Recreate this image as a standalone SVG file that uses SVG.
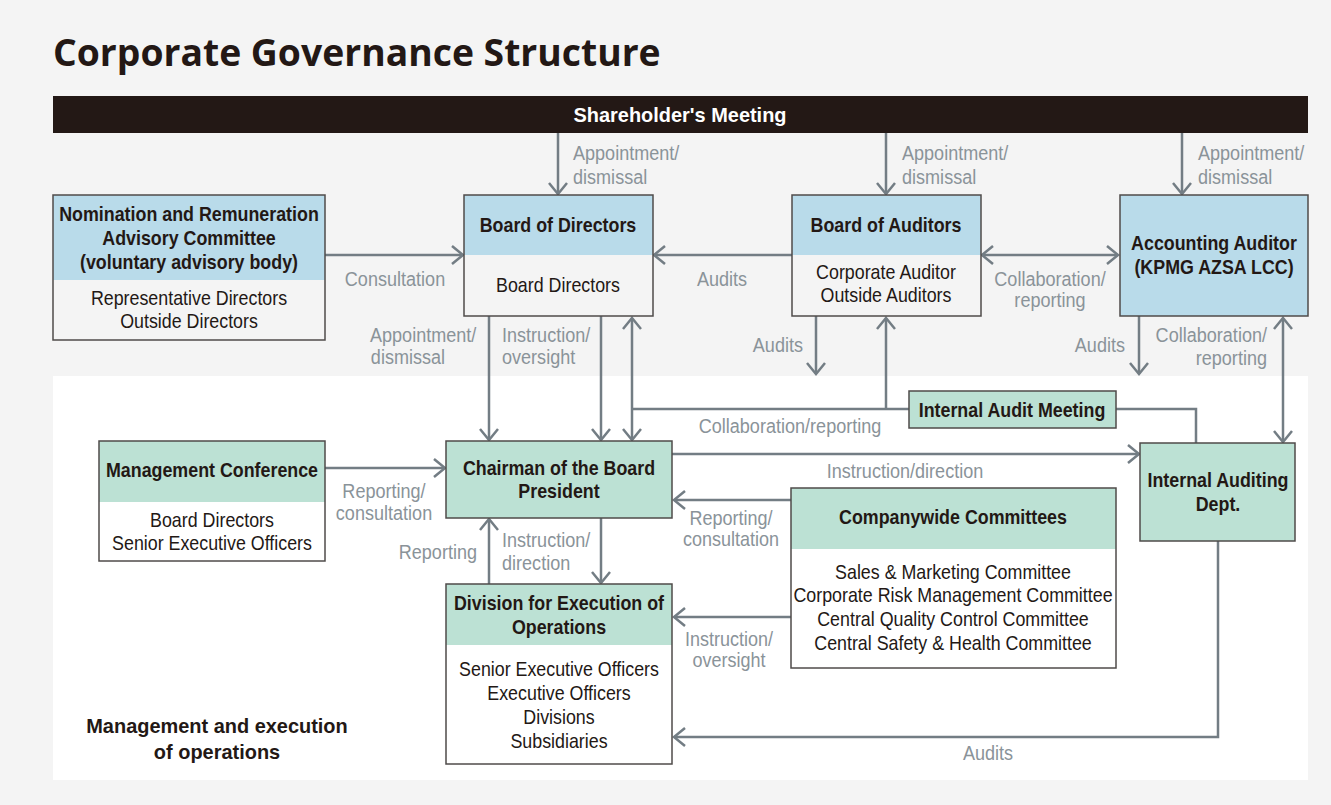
<svg xmlns="http://www.w3.org/2000/svg" width="1331" height="805" viewBox="0 0 1331 805">
  <style>
    text { font-family: "Liberation Sans", Arial, sans-serif; }
    .title { font-family: "Open Sans", "Noto Sans", sans-serif; font-weight: 700; font-size: 37.3px; fill: #231815; }
    .t { font-size: 21px; fill: #231815; text-anchor: middle; }
    .tb { font-size: 21px; fill: #231815; text-anchor: middle; font-weight: 700; }
    .lbl { font-size: 21px; fill: #8a9399; }
    .lbs { font-size: 20px; fill: #8a9399; }
    .mid { text-anchor: middle; }
    .end { text-anchor: end; }
    .box { stroke: #4f4b4a; stroke-width: 1.5; fill: none; }
    .blue { fill: #b9dbea; }
    .mint { fill: #bce1d4; }
    .pale { fill: #f4f4f4; }
    .white { fill: #ffffff; }
    .ln { stroke: #737d84; stroke-width: 2.5; fill: none; }
    .a1 { marker-end: url(#arr); }
    .a2 { marker-start: url(#arr); marker-end: url(#arr); }
  </style>
  <defs>
    <marker id="arr" markerUnits="userSpaceOnUse" markerWidth="24" markerHeight="24" viewBox="-14 -12 16 24" refX="0" refY="0" orient="auto-start-reverse">
      <path d="M-11,-9 L0,0 L-11,9" fill="none" stroke="#737d84" stroke-width="2.5"/>
    </marker>
  </defs>

  <!-- page backgrounds -->
  <rect x="0" y="0" width="1331" height="805" fill="#f4f4f4"/>
  <rect x="53" y="376" width="1255" height="404" fill="#ffffff"/>

  <text class="title" x="53" y="66">Corporate Governance Structure</text>

  <!-- shareholders bar -->
  <g id="shareholders">
    <rect x="53" y="96" width="1255" height="37" fill="#231815"/>
    <g transform="translate(680 0) scale(0.95 1)">
      <text x="0" y="122" font-size="21" fill="#ffffff" text-anchor="middle" font-weight="700">Shareholder's Meeting</text>
    </g>
  </g>

  <!-- connectors -->
  <g id="connectors">
    <path class="ln a1" d="M558,133 V194"/>
    <path class="ln a1" d="M886,133 V194"/>
    <path class="ln a1" d="M1182,133 V194"/>
    <path class="ln a1" d="M325,255 H463"/>
    <path class="ln a1" d="M792,255 H654"/>
    <path class="ln a2" d="M982,255 H1118"/>
    <path class="ln a1" d="M816,316 V374"/>
    <path class="ln a1" d="M1139,316 V374"/>
    <path class="ln a2" d="M1283,318 V442"/>
    <path class="ln a1" d="M489,316 V440"/>
    <path class="ln a1" d="M601,316 V440"/>
    <path class="ln a2" d="M632,318 V440"/>
    <path class="ln" d="M632,409 H909"/>
    <path class="ln a1" d="M886,409 V318"/>
    <path class="ln" d="M1116,409 H1196 V443"/>
    <path class="ln a1" d="M672,454 H1139"/>
    <path class="ln a1" d="M325,468 H445"/>
    <path class="ln a1" d="M791,500 H674"/>
    <path class="ln a1" d="M791,617 H674"/>
    <path class="ln a1" d="M489,584 V519"/>
    <path class="ln a1" d="M601,518 V583"/>
    <path class="ln a1" d="M1218,541 V737 H674"/>
  </g>

  <!-- connector labels (condensed horizontally around their anchor) -->
  <g id="labels">
    <g transform="translate(573 0) scale(0.86 1)">
      <text class="lbl" x="0" y="160">Appointment/</text>
      <text class="lbl" x="0" y="184">dismissal</text>
    </g>
    <g transform="translate(902 0) scale(0.86 1)">
      <text class="lbl" x="0" y="160">Appointment/</text>
      <text class="lbl" x="0" y="184">dismissal</text>
    </g>
    <g transform="translate(1198 0) scale(0.86 1)">
      <text class="lbl" x="0" y="160">Appointment/</text>
      <text class="lbl" x="0" y="184">dismissal</text>
    </g>
    <g transform="translate(395 0) scale(0.86 1)">
      <text class="lbl mid" x="0" y="286">Consultation</text>
    </g>
    <g transform="translate(722 0) scale(0.86 1)">
      <text class="lbl mid" x="0" y="286">Audits</text>
    </g>
    <g transform="translate(1050 0) scale(0.86 1)">
      <text class="lbl mid" x="0" y="286">Collaboration/</text>
      <text class="lbl mid" x="0" y="307">reporting</text>
    </g>
    <g transform="translate(803 0) scale(0.86 1)">
      <text class="lbl end" x="0" y="352">Audits</text>
    </g>
    <g transform="translate(1125 0) scale(0.86 1)">
      <text class="lbl end" x="0" y="352">Audits</text>
    </g>
    <g transform="translate(1267 0) scale(0.86 1)">
      <text class="lbl end" x="0" y="342">Collaboration/</text>
      <text class="lbl end" x="0" y="365">reporting</text>
    </g>
    <g transform="translate(370 0) scale(0.86 1)">
      <text class="lbl" x="0" y="342">Appointment/</text>
      <text class="lbl" x="1" y="364">dismissal</text>
    </g>
    <g transform="translate(502 0) scale(0.86 1)">
      <text class="lbl" x="0" y="342">Instruction/</text>
      <text class="lbl" x="0" y="364">oversight</text>
    </g>
    <g transform="translate(790 0) scale(0.86 1)">
      <text class="lbl mid" x="0" y="433">Collaboration/reporting</text>
    </g>
    <g transform="translate(905 0) scale(0.86 1)">
      <text class="lbl mid" x="0" y="478">Instruction/direction</text>
    </g>
    <g transform="translate(384 0) scale(0.86 1)">
      <text class="lbl mid" x="0" y="498">Reporting/</text>
      <text class="lbl mid" x="0" y="520">consultation</text>
    </g>
    <g transform="translate(477 0) scale(0.86 1)">
      <text class="lbl end" x="0" y="559">Reporting</text>
    </g>
    <g transform="translate(502 0) scale(0.86 1)">
      <text class="lbl" x="0" y="547">Instruction/</text>
      <text class="lbl" x="0" y="570">direction</text>
    </g>
    <g transform="translate(731 0) scale(0.9 1)">
      <text class="lbs mid" x="0" y="525">Reporting/</text>
      <text class="lbs mid" x="0" y="546">consultation</text>
    </g>
    <g transform="translate(729 0) scale(0.9 1)">
      <text class="lbs mid" x="0" y="646">Instruction/</text>
      <text class="lbs mid" x="0" y="667">oversight</text>
    </g>
    <g transform="translate(988 0) scale(0.86 1)">
      <text class="lbl mid" x="0" y="760">Audits</text>
    </g>
  </g>

  <!-- nodes -->
  <g id="nomination">
    <rect class="pale" x="53" y="195" width="272" height="145"/>
    <rect class="blue" x="53" y="195" width="272" height="85"/>
    <rect class="box" x="53" y="195" width="272" height="145"/>
    <g transform="translate(189 0) scale(0.85 1)">
      <text class="tb" x="0" y="221">Nomination and Remuneration</text>
      <text class="tb" x="0" y="245">Advisory Committee</text>
      <text class="tb" x="0" y="269">(voluntary advisory body)</text>
      <text class="t" x="0" y="305">Representative Directors</text>
      <text class="t" x="0" y="328">Outside Directors</text>
    </g>
  </g>

  <g id="board-of-directors">
    <rect class="pale" x="464" y="195" width="189" height="121"/>
    <rect class="blue" x="464" y="195" width="189" height="60"/>
    <rect class="box" x="464" y="195" width="189" height="121"/>
    <g transform="translate(558 0) scale(0.85 1)">
      <text class="tb" x="0" y="232">Board of Directors</text>
      <text class="t" x="0" y="292">Board Directors</text>
    </g>
  </g>

  <g id="board-of-auditors">
    <rect class="pale" x="792" y="195" width="189" height="121"/>
    <rect class="blue" x="792" y="195" width="189" height="60"/>
    <rect class="box" x="792" y="195" width="189" height="121"/>
    <g transform="translate(886 0) scale(0.85 1)">
      <text class="tb" x="0" y="232">Board of Auditors</text>
      <text class="t" x="0" y="279">Corporate Auditor</text>
      <text class="t" x="0" y="302">Outside Auditors</text>
    </g>
  </g>

  <g id="accounting-auditor">
    <rect class="blue" x="1120" y="195" width="188" height="121"/>
    <rect class="box" x="1120" y="195" width="188" height="121"/>
    <g transform="translate(1214 0) scale(0.85 1)">
      <text class="tb" x="0" y="250">Accounting Auditor</text>
      <text class="tb" x="0" y="274">(KPMG AZSA LCC)</text>
    </g>
  </g>

  <g id="internal-audit-meeting">
    <rect class="mint" x="909" y="391" width="207" height="37"/>
    <rect class="box" x="909" y="391" width="207" height="37"/>
    <g transform="translate(1012 0) scale(0.85 1)">
      <text class="tb" x="0" y="417">Internal Audit Meeting</text>
    </g>
  </g>

  <g id="internal-auditing-dept">
    <rect class="mint" x="1140" y="443" width="155" height="98"/>
    <rect class="box" x="1140" y="443" width="155" height="98"/>
    <g transform="translate(1218 0) scale(0.85 1)">
      <text class="tb" x="0" y="487">Internal Auditing</text>
      <text class="tb" x="0" y="511">Dept.</text>
    </g>
  </g>

  <g id="management-conference">
    <rect class="white" x="99" y="441" width="226" height="120"/>
    <rect class="mint" x="99" y="441" width="226" height="61"/>
    <rect class="box" x="99" y="441" width="226" height="120"/>
    <g transform="translate(212 0) scale(0.85 1)">
      <text class="tb" x="0" y="477">Management Conference</text>
      <text class="t" x="0" y="527">Board Directors</text>
      <text class="t" x="0" y="550">Senior Executive Officers</text>
    </g>
  </g>

  <g id="chairman">
    <rect class="mint" x="446" y="441" width="226" height="77"/>
    <rect class="box" x="446" y="441" width="226" height="77"/>
    <g transform="translate(559 0) scale(0.85 1)">
      <text class="tb" x="0" y="475">Chairman of the Board</text>
      <text class="tb" x="0" y="498">President</text>
    </g>
  </g>

  <g id="companywide-committees">
    <rect class="white" x="791" y="488" width="325" height="180"/>
    <rect class="mint" x="791" y="488" width="325" height="61"/>
    <rect class="box" x="791" y="488" width="325" height="180"/>
    <g transform="translate(953 0) scale(0.85 1)">
      <text class="tb" x="0" y="524">Companywide Committees</text>
      <text class="t" x="0" y="579">Sales &amp; Marketing Committee</text>
      <text class="t" x="0" y="602">Corporate Risk Management Committee</text>
      <text class="t" x="0" y="626">Central Quality Control Committee</text>
      <text class="t" x="0" y="650">Central Safety &amp; Health Committee</text>
    </g>
  </g>

  <g id="division">
    <rect class="white" x="446" y="584" width="226" height="180"/>
    <rect class="mint" x="446" y="584" width="226" height="61"/>
    <rect class="box" x="446" y="584" width="226" height="180"/>
    <g transform="translate(559 0) scale(0.85 1)">
      <text class="tb" x="0" y="610">Division for Execution of</text>
      <text class="tb" x="0" y="634">Operations</text>
      <text class="t" x="0" y="676">Senior Executive Officers</text>
      <text class="t" x="0" y="700">Executive Officers</text>
      <text class="t" x="0" y="724">Divisions</text>
      <text class="t" x="0" y="748">Subsidiaries</text>
    </g>
  </g>

  <g id="area-caption">
    <g transform="translate(217 0) scale(0.95 1)">
      <text class="tb" x="0" y="733">Management and execution</text>
      <text class="tb" x="0" y="759">of operations</text>
    </g>
  </g>
</svg>
